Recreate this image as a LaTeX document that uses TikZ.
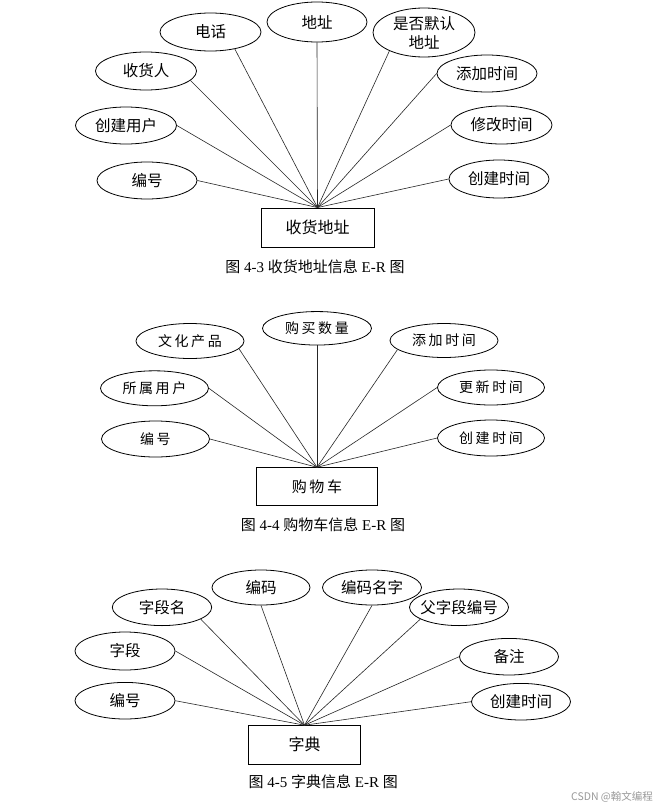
\documentclass[tikz,border=0pt]{standalone}
\usepackage{fontspec}
\setmainfont{Liberation Serif}
\newfontfamily\cjk{Noto Sans CJK SC}
\newfontfamily\cjkwide[LetterSpace=18]{Noto Sans CJK SC}
\usetikzlibrary{shapes.geometric}
\begin{document}
\begin{tikzpicture}[x=1pt,y=-1pt,
 attr/.style={draw, ellipse, line width=0.8pt, inner sep=0pt, minimum width=101pt, minimum height=38pt, font=\cjk\fontsize{15.5}{19}\selectfont, align=center},
 attrw/.style={attr, font=\cjkwide\fontsize{14}{17}\selectfont},
 ent/.style={draw, rectangle, line width=0.9pt, inner sep=0pt, font=\cjk\fontsize{16}{19}\selectfont},
 conn/.style={line width=0.6pt, draw=black!85},
 capt/.style={font=\fontsize{15}{18}\selectfont, inner sep=0pt}]
\useasboundingbox[fill=white] (0,0) rectangle (666,811);

% ---------- Diagram 1 ----------
\node[attr] (a1) at (210.5,32) {电话};
\node[attr, minimum width=100pt, minimum height=40pt] (a2) at (317,22) {地址};
\node[attr, minimum width=102pt, minimum height=49pt, inner ysep=-2pt] (a3) at (424,32.5) {是否默认\\地址};
\node[attr] (a4) at (146,71) {收货人};
\node[attr, minimum width=100pt, minimum height=37pt] (a5) at (487,73.5) {添加时间};
\node[attr, minimum height=37pt] (a6) at (126,125.5) {创建用户};
\node[attr] (a7) at (501.5,125) {修改时间};
\node[attr, minimum width=100pt, minimum height=37pt] (a8) at (147,180.5) {编号};
\node[attr, minimum width=100pt] (a9) at (499,179) {创建时间};
\node[ent, minimum width=113pt, minimum height=39pt] (e1) at (317.5,227.5) {收货地址};
\node[capt] (t1) at (315,267) {{\cjk 图} 4-3 {\cjk 收货地址信息} E-R {\cjk 图}};

\draw[conn] (a1.-35) -- (e1.north);
\draw[conn] (a2.south) -- (e1.north);
\draw[conn] (a3.-152) -- (e1.north);
\draw[conn] (a4.-12) -- (e1.north);
\draw[conn] (a5.west) -- (e1.north);
\draw[conn] (a6.east) -- (e1.north);
\draw[conn] (a7.west) -- (e1.north);
\draw[conn] (a8.east) -- (e1.north);
\draw[conn] (a9.west) -- (e1.north);

% ---------- Diagram 2 ----------
\node[attrw, minimum width=109pt, minimum height=33.5pt] (b1) at (317,328.3) {购买数量};
\node[attrw, minimum width=108pt, minimum height=35pt] (b2) at (190,341) {文化产品};
\node[attrw, minimum width=108pt, minimum height=34pt] (b3) at (444,340.5) {添加时间};
\node[attrw, minimum width=108pt, minimum height=35pt] (b4) at (154.5,388.3) {所属用户};
\node[attrw, minimum width=107pt, minimum height=35pt] (b5) at (491,387.5) {更新时间};
\node[attrw, minimum width=108pt, minimum height=36pt] (b6) at (155.5,439) {编号};
\node[attrw, minimum width=107pt, minimum height=36pt] (b7) at (491,438) {创建时间};
\node[ent, font=\cjkwide\fontsize{15}{18}\selectfont, minimum width=121.7pt, minimum height=38pt] (e2) at (317,486.7) {购物车};
\node[capt] (t2) at (323,524.3) {{\cjk 图} 4-4 {\cjk 购物车信息} E-R {\cjk 图}};

\draw[conn] (b1.south) -- (e2.north);
\draw[conn] (b2.-9) -- (e2.north);
\draw[conn] (b3.-169) -- (e2.north);
\draw[conn] (b4.east) -- (e2.north);
\draw[conn] (b5.west) -- (e2.north);
\draw[conn] (b6.east) -- (e2.north);
\draw[conn] (b7.west) -- (e2.north);

% ---------- Diagram 3 ----------
\node[attr, minimum width=98pt, minimum height=35pt] (c1) at (261,587.5) {编码};
\node[attr, minimum width=99pt, minimum height=35pt] (c2) at (372,587.5) {编码名字};
\node[attr, minimum width=99.4pt, minimum height=36.6pt] (c3) at (162,607.3) {字段名};
\node[attr, minimum width=99pt, minimum height=36.6pt, inner xsep=-10pt] (c4) at (459,607.3) {父字段编号};
\node[attr, minimum width=100pt, minimum height=38pt] (c5) at (125,651) {字段};
\node[attr, minimum width=99pt, minimum height=36.6pt] (c6) at (509,656.7) {备注};
\node[attr, minimum width=100pt, minimum height=36.6pt] (c7) at (125,700.7) {编号};
\node[attr, minimum width=99pt, minimum height=36.6pt] (c8) at (521,701.7) {创建时间};
\node[ent, minimum width=112.3pt, minimum height=38.3pt] (e3) at (304.5,744.8) {字典};
\node[capt] (t3) at (323.3,781.7) {{\cjk 图} 4-5 {\cjk 字典信息} E-R {\cjk 图}};

\draw[conn] (c1.south) -- (e3.north);
\draw[conn] (c2.south) -- (e3.north);
\draw[conn] (c3.-17) -- (e3.north);
\draw[conn] (c4.-163) -- (e3.north);
\draw[conn] (c5.east) -- (e3.north);
\draw[conn] (c6.west) -- (e3.north);
\draw[conn] (c7.east) -- (e3.north);
\draw[conn] (c8.west) -- (e3.north);

% watermark
\node[font=\cjk\fontsize{10.5}{12}\selectfont, text=black!40, inner sep=0pt] (wm) at (612,797) {CSDN @翰文编程};
\end{tikzpicture}
\end{document}
